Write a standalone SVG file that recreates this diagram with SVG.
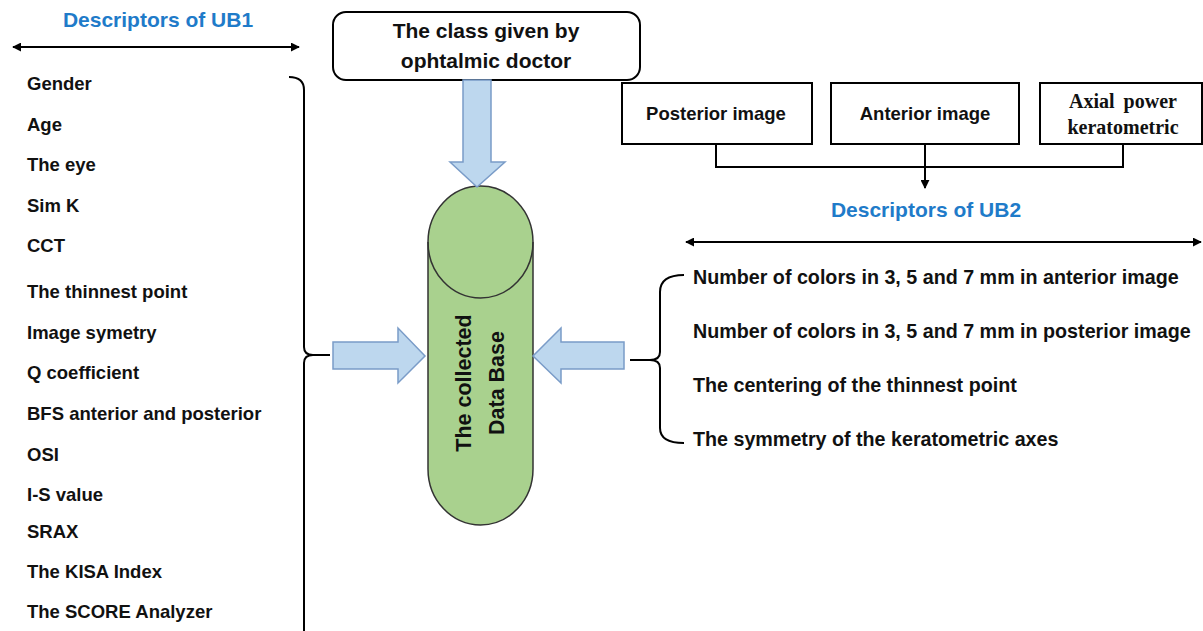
<svg xmlns="http://www.w3.org/2000/svg" width="1203" height="631" viewBox="0 0 1203 631">
<defs>
<style>
.t{font-family:"Liberation Sans",Arial,sans-serif;font-weight:bold;fill:#111}
.l{font-size:18.5px}
.r{font-size:19.7px}
.h{font-family:"Liberation Sans",Arial,sans-serif;font-weight:bold;font-size:21px;fill:#1F7BC9}
.ser{font-family:"Liberation Serif","Times New Roman",serif;font-weight:bold;font-size:20px;fill:#111}
.ln{fill:none;stroke:#000;stroke-width:2}
.blue{fill:#BDD7EE;stroke:#7A9CC8;stroke-width:1.5}
.box{fill:#fff;stroke:#000;stroke-width:2}
</style>
<marker id="ah" viewBox="0 0 10 10" refX="9" refY="5" markerWidth="9" markerHeight="9" markerUnits="userSpaceOnUse" orient="auto-start-reverse">
<path d="M0,0 L10,5 L0,10 Z" fill="#000"/>
</marker>
</defs>
<rect width="1203" height="631" fill="#fff"/>

<g id="ub1-header">
<text class="h" x="158" y="27" text-anchor="middle">Descriptors of UB1</text>
</g>

<g id="ub1-list">
<text class="t l" x="27" y="90">Gender</text>
<text class="t l" x="27" y="131">Age</text>
<text class="t l" x="27" y="171">The eye</text>
<text class="t l" x="27" y="212">Sim K</text>
<text class="t l" x="27" y="252">CCT</text>
<text class="t l" x="27" y="298">The thinnest  point</text>
<text class="t l" x="27" y="339">Image symetry</text>
<text class="t l" x="27" y="379">Q coefficient</text>
<text class="t l" x="27" y="420">BFS anterior and posterior</text>
<text class="t l" x="27" y="461">OSI</text>
<text class="t l" x="27" y="501">I-S value</text>
<text class="t l" x="27" y="538">SRAX</text>
<text class="t l" x="27" y="578">The KISA Index</text>
<text class="t l" x="27" y="618">The SCORE Analyzer</text>
</g>

<g id="class-box">
<rect class="box" x="333" y="12" width="307" height="68" rx="13"/>
<text class="t" x="486" y="38" font-size="21" text-anchor="middle">The class given by</text>
<text class="t" x="486" y="68" font-size="21" text-anchor="middle">ophtalmic doctor</text>
</g>

<g id="posterior-box">
<rect class="box" x="622" y="83" width="190" height="61"/>
<text class="t" x="716" y="120" font-size="18.5" text-anchor="middle">Posterior image</text>
</g>
<g id="anterior-box">
<rect class="box" x="831" y="83" width="188" height="61"/>
<text class="t" x="925" y="120" font-size="18.5" text-anchor="middle">Anterior image</text>
</g>
<g id="axial-box">
<rect class="box" x="1040" y="83" width="162" height="61"/>
<text class="ser" x="1123" y="108" text-anchor="middle" word-spacing="4">Axial power</text>
<text class="ser" x="1123" y="134" text-anchor="middle">keratometric</text>
</g>

<g id="database">
<rect x="428" y="186" width="105" height="339" rx="52.5" ry="56" fill="#A9D18E" stroke="#333" stroke-width="1.5"/>
<path d="M428,242 A52.5,56 0 0 0 533,242" fill="none" stroke="#333" stroke-width="1.5"/>
<text class="t" font-size="21.5" text-anchor="middle" transform="translate(471,383) rotate(-90)">The collected</text>
<text class="t" font-size="21.5" text-anchor="middle" transform="translate(504,383) rotate(-90)">Data Base</text>
</g>

<g id="ub2-header">
<text class="h" x="926" y="217" text-anchor="middle">Descriptors of UB2</text>
</g>

<g id="ub2-list">
<text class="t r" x="693" y="284">Number of colors in 3, 5 and 7 mm in anterior image</text>
<text class="t r" x="693" y="338">Number of colors in 3, 5 and 7 mm in posterior image</text>
<text class="t r" x="693" y="392">The centering of the thinnest point</text>
<text class="t r" x="693" y="446">The symmetry of the keratometric axes</text>
</g>

<g id="connectors">
<line class="ln" x1="13" y1="47" x2="299" y2="47" marker-start="url(#ah)" marker-end="url(#ah)"/>
<line class="ln" x1="686" y1="242" x2="1201" y2="242" marker-start="url(#ah)" marker-end="url(#ah)"/>
<path class="ln" d="M716,144 V167 H1123 V144"/>
<line class="ln" x1="925" y1="144" x2="925" y2="188" marker-end="url(#ah)"/>
<path class="ln" d="M289,77 Q304,77 304,90 V347 Q304,355 313,355 H330 M313,355 Q304,355 304,363 V631"/>
<path class="ln" d="M684,275 Q660,275 660,292 V352 Q660,360 650,360 H630 M650,360 Q660,360 660,368 V428 Q660,443 684,443"/>
<path class="blue" d="M463,80 H491 V162 H505 L477,187 L450,162 H463 Z"/>
<path class="blue" d="M333,342 H398 V328 L425,356 L398,383 V369 H333 Z"/>
<path class="blue" d="M624,342 H561 V328 L533,356 L561,383 V369 H624 Z"/>
</g>
</svg>
